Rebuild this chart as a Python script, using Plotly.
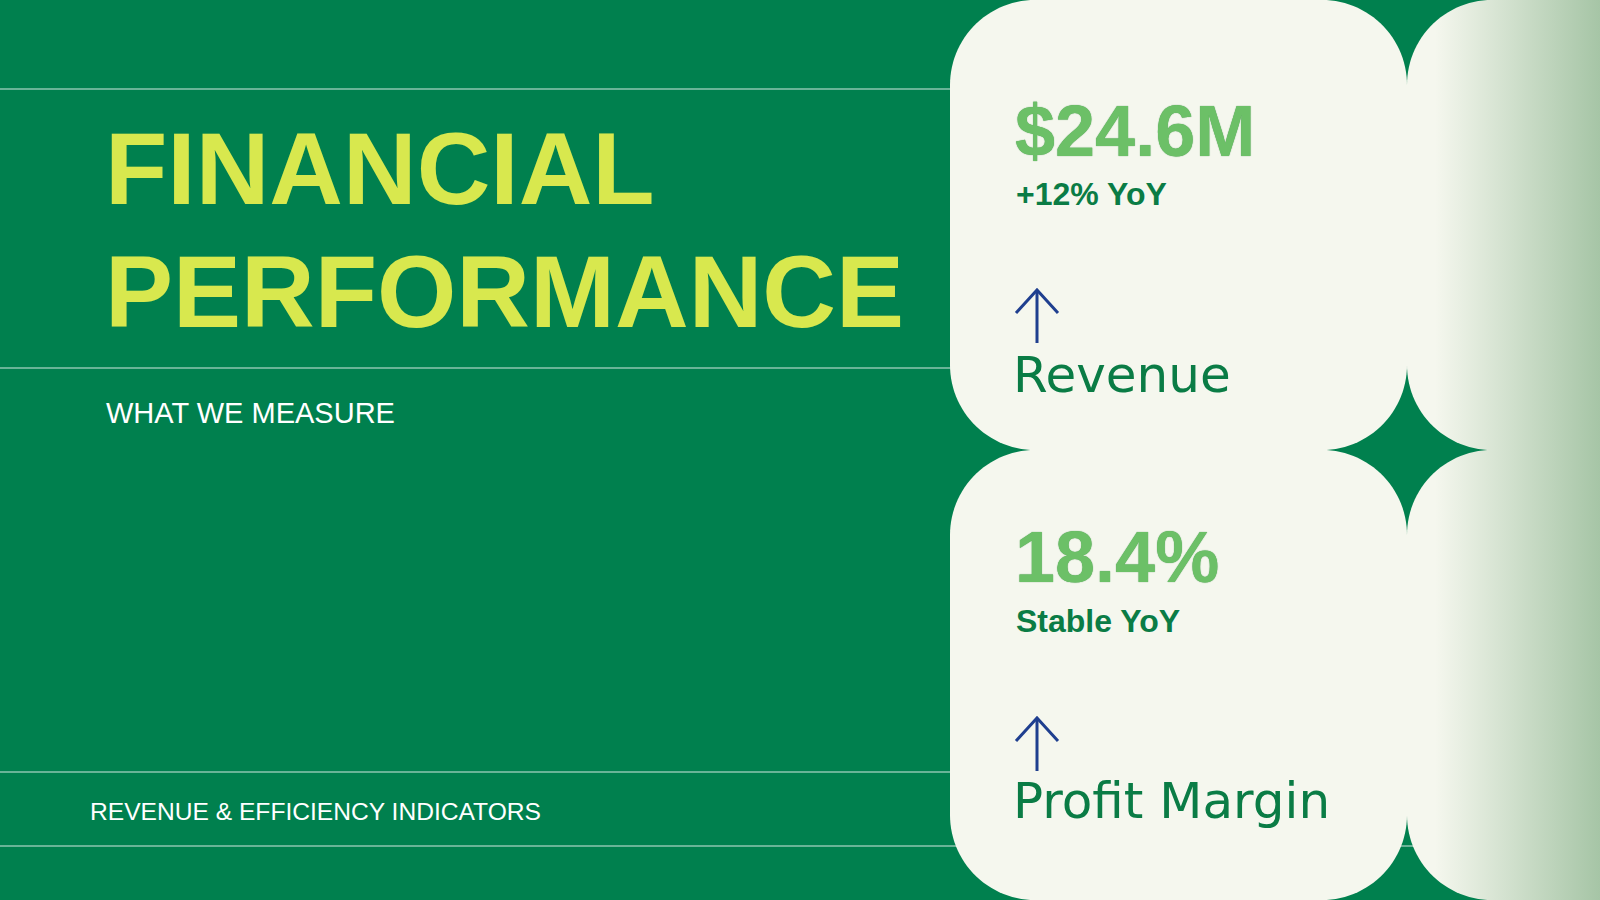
import numpy as np
import plotly.graph_objects as go

W, H = 1600, 900

BG = "#00804E"
CARD = "#F5F7EE"
CARD_FADE = "#A6C5A6"
TITLE_COLOR = "#D8E84E"
KPI_COLOR = "#6CC067"
INK = "#0A7C45"
ARROW = "#1F3F8F"
RULE = "rgba(255,255,255,0.55)"

# slide text
title_lines = ["FINANCIAL", "PERFORMANCE"]
subtitle = "WHAT WE MEASURE"
footer = "REVENUE & EFFICIENCY INDICATORS"

# kpi cards
kpi_values = ["$24.6M", "18.4%"]
kpi_changes = ["+12% YoY", "Stable YoY"]
kpi_labels = ["Revenue", "Profit Margin"]


def rounded_box(x0, y0, x1, y1, r, n=30):
    # y grows downward here (y axis is reversed)
    t = np.linspace(0, np.pi / 2, n)
    corners = [(x0 + r, y0 + r, np.pi), (x1 - r, y0 + r, 1.5 * np.pi),
               (x1 - r, y1 - r, 0.0), (x0 + r, y1 - r, 0.5 * np.pi)]
    xs, ys = [], []
    for cx, cy, a0 in corners:
        a = a0 + t
        xs += list(cx + r * np.cos(a))
        ys += list(cy + r * np.sin(a))
    xs.append(xs[0])
    ys.append(ys[0])
    return xs, ys


fig = go.Figure()

# horizontal rules behind everything
for y in [89, 368, 772, 846]:
    fig.add_shape(type="line", x0=0, x1=W, y0=y, y1=y, layer="below",
                  line=dict(color=RULE, width=1.5))

R = 85
card_rows = [(0, 450), (450, 900)]
for y0, y1 in card_rows:
    xs, ys = rounded_box(950, y0, 1407, y1, R)
    fig.add_trace(go.Scatter(x=xs, y=ys, mode="none", fill="toself",
                             fillcolor=CARD,
                             hoverinfo="skip", showlegend=False))
    xs, ys = rounded_box(1407, y0, 1864, y1, R)
    fig.add_trace(go.Scatter(x=xs, y=ys, mode="none", fill="toself",
                             fillgradient=dict(type="horizontal", start=1435, stop=1600,
                                               colorscale=[[0, CARD], [1, CARD_FADE]]),
                             hoverinfo="skip", showlegend=False))


def label(x, y, text, size, color, family="Liberation Sans", weight="normal", shadow="none"):
    fig.add_annotation(x=x, y=y, text=text, showarrow=False,
                       xanchor="left", yanchor="middle", align="left",
                       font=dict(family=family, size=size, color=color,
                                 weight=weight, shadow=shadow))


# left side
label(103, 169, title_lines[0], 102, TITLE_COLOR, weight="bold")
label(103, 292, title_lines[1], 102, TITLE_COLOR, weight="bold")
label(104, 413, subtitle, 29, "white")
label(88, 811, footer, 24.6, "white")

# card contents
value_y = [131, 557]
change_y = [194, 621]
label_y = [375, 801]
arrow_top = [290, 718]
for i in range(len(kpi_values)):
    label(1013, value_y[i], kpi_values[i], 72, KPI_COLOR, weight="bold",
          shadow="0 0 1px #3E8E45")
    label(1014, change_y[i], kpi_changes[i], 32, INK, weight="bold")
    label(1011, label_y[i], kpi_labels[i], 50, INK, family="DejaVu Sans")

    top = arrow_top[i]
    fig.add_shape(type="line", x0=1037, x1=1037, y0=top + 1, y1=top + 53,
                  line=dict(color=ARROW, width=3))
    fig.add_shape(type="path",
                  path=f"M 1016 {top + 23} L 1037 {top} L 1058 {top + 23}",
                  line=dict(color=ARROW, width=3))

fig.update_xaxes(range=[0, W], visible=False, fixedrange=True)
fig.update_yaxes(range=[H, 0], visible=False, fixedrange=True)
fig.update_layout(
    width=W, height=H,
    margin=dict(l=0, r=0, t=0, b=0),
    paper_bgcolor=BG, plot_bgcolor=BG,
    showlegend=False,
)

fig.write_html("out.html", config={"displayModeBar": False},
               post_script="document.body.style.margin='0';document.body.style.overflow='hidden';")
